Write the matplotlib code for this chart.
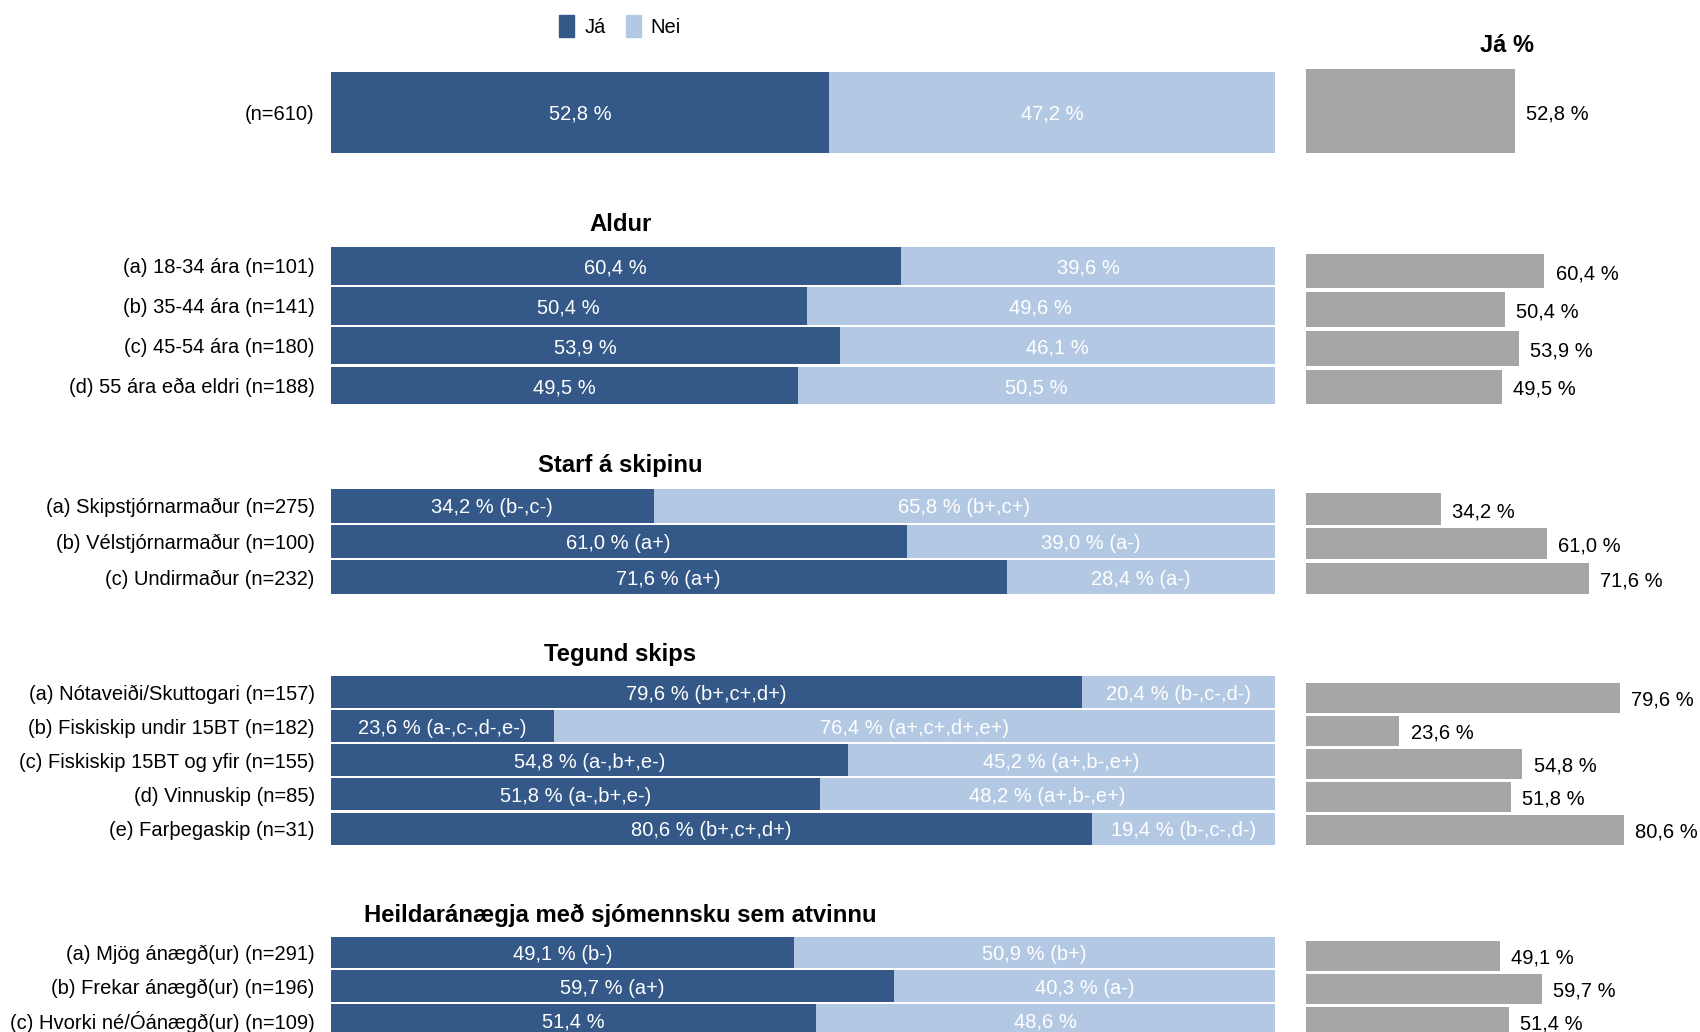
"""Já/Nei stacked bars by background group, with a side panel of Já %."""
import matplotlib

matplotlib.use("Agg")
import matplotlib.pyplot as plt
from matplotlib.patches import Patch

plt.rcParams["font.family"] = ["Liberation Sans", "DejaVu Sans"]

DARK = "#345887"
LIGHT = "#b3c8e2"
GREY = "#a6a6a6"
FS = 14.5

SERIES = ["Já", "Nei"]

TOTAL_LABELS = ["(n=610)"]
TOTAL_JA = [52.8]
TOTAL_NEI = [47.2]
TOTAL_JA_SIG = [""]
TOTAL_NEI_SIG = [""]

ALDUR_LABELS = ["(a) 18-34 ára (n=101)", "(b) 35-44 ára (n=141)",
                "(c) 45-54 ára (n=180)", "(d) 55 ára eða eldri (n=188)"]
ALDUR_JA = [60.4, 50.4, 53.9, 49.5]
ALDUR_NEI = [39.6, 49.6, 46.1, 50.5]
ALDUR_JA_SIG = ["", "", "", ""]
ALDUR_NEI_SIG = ["", "", "", ""]

STARF_LABELS = ["(a) Skipstjórnarmaður (n=275)", "(b) Vélstjórnarmaður (n=100)",
                "(c) Undirmaður (n=232)"]
STARF_JA = [34.2, 61.0, 71.6]
STARF_NEI = [65.8, 39.0, 28.4]
STARF_JA_SIG = ["(b-,c-)", "(a+)", "(a+)"]
STARF_NEI_SIG = ["(b+,c+)", "(a-)", "(a-)"]

SKIP_LABELS = ["(a) Nótaveiði/Skuttogari (n=157)", "(b) Fiskiskip undir 15BT (n=182)",
               "(c) Fiskiskip 15BT og yfir (n=155)", "(d) Vinnuskip (n=85)",
               "(e) Farþegaskip (n=31)"]
SKIP_JA = [79.6, 23.6, 54.8, 51.8, 80.6]
SKIP_NEI = [20.4, 76.4, 45.2, 48.2, 19.4]
SKIP_JA_SIG = ["(b+,c+,d+)", "(a-,c-,d-,e-)", "(a-,b+,e-)", "(a-,b+,e-)", "(b+,c+,d+)"]
SKIP_NEI_SIG = ["(b-,c-,d-)", "(a+,c+,d+,e+)", "(a+,b-,e+)", "(a+,b-,e+)", "(b-,c-,d-)"]

ANAEGJA_LABELS = ["(a) Mjög ánægð(ur) (n=291)", "(b) Frekar ánægð(ur) (n=196)",
                  "(c) Hvorki né/Óánægð(ur) (n=109)"]
ANAEGJA_JA = [49.1, 59.7, 51.4]
ANAEGJA_NEI = [50.9, 40.3, 48.6]
ANAEGJA_JA_SIG = ["(b-)", "(a+)", ""]
ANAEGJA_NEI_SIG = ["(b+)", "(a-)", ""]

GROUPS = [
    ("", TOTAL_LABELS, TOTAL_JA, TOTAL_NEI, TOTAL_JA_SIG, TOTAL_NEI_SIG),
    ("Aldur", ALDUR_LABELS, ALDUR_JA, ALDUR_NEI, ALDUR_JA_SIG, ALDUR_NEI_SIG),
    ("Starf á skipinu", STARF_LABELS, STARF_JA, STARF_NEI, STARF_JA_SIG, STARF_NEI_SIG),
    ("Tegund skips", SKIP_LABELS, SKIP_JA, SKIP_NEI, SKIP_JA_SIG, SKIP_NEI_SIG),
    ("Heildaránægja með sjómennsku sem atvinnu", ANAEGJA_LABELS, ANAEGJA_JA,
     ANAEGJA_NEI, ANAEGJA_JA_SIG, ANAEGJA_NEI_SIG),
]

# layout, in pixels of a 1568 x 952 canvas (top, bottom, bar height)
REF_W, REF_H = 1568.0, 952.0
LEFT_X = (305, 1176)
RIGHT_X = (1205, 1568.5)
LEFT_BOXES = [(66, 141, 1.0), (227, 374, 0.94), (450, 549, 0.94),
              (623, 780, 0.94), (863, 956.6, 0.94)]
RIGHT_BOXES = [(64, 141, 1.0), (232.3, 374.7, 0.9), (453.6, 549.4, 0.91),
               (628.4, 780.6, 0.9), (866.3, 957.8, 0.9)]
TITLE_X = 572
TITLE_Y = [None, 207, 429, 604, 844]


def pct(v, sig=""):
    s = f"{v:.1f} %".replace(".", ",")
    return f"{s} {sig}" if sig else s


def _rect(xs, box):
    x0, x1 = xs
    top, bottom, _ = box
    return [x0 / REF_W, 1 - bottom / REF_H, (x1 - x0) / REF_W, (bottom - top) / REF_H]


def _clean(ax):
    for s in ax.spines.values():
        s.set_visible(False)
    ax.set_xticks([])
    ax.set_xlim(0, 100)


def _nudge(texts, dx, dy):
    # bar_label centres a touch high compared with the original
    for t in texts:
        t.xyann = (dx, dy)


def stacked_panel(fig, box, labels, ja, nei, ja_sig, nei_sig):
    ax = fig.add_axes(_rect(LEFT_X, box))
    h = box[2]
    y = list(range(len(labels)))
    c1 = ax.barh(y, ja, height=h, color=DARK, linewidth=0)
    c2 = ax.barh(y, nei, left=ja, height=h, color=LIGHT, linewidth=0)
    t1 = ax.bar_label(c1, labels=[pct(v, s) for v, s in zip(ja, ja_sig)],
                      label_type="center", color="white", fontsize=FS)
    t2 = ax.bar_label(c2, labels=[pct(v, s) for v, s in zip(nei, nei_sig)],
                      label_type="center", color="white", fontsize=FS)
    _nudge(t1 + t2, 0, -1.5)
    _clean(ax)
    ax.set_ylim(len(labels) - 0.5, -0.5)
    ax.set_yticks(y)
    ax.set_yticklabels(labels, fontsize=FS)
    ax.tick_params(axis="y", length=0, pad=11.5)
    return ax


def ja_panel(fig, box, ja):
    ax = fig.add_axes(_rect(RIGHT_X, box))
    y = list(range(len(ja)))
    c = ax.barh(y, ja, height=box[2], color=GREY, linewidth=0)
    texts = ax.bar_label(c, labels=[pct(v) for v in ja], padding=8, fontsize=FS)
    _nudge(texts, 8, -1.8)
    _clean(ax)
    ax.set_ylim(len(ja) - 0.5, -0.5)
    ax.set_yticks([])
    return ax


def main():
    fig = plt.figure(figsize=(17, 10.32), dpi=100)

    for (title, labels, ja, nei, ja_sig, nei_sig), lbox, rbox, ty in zip(
        GROUPS, LEFT_BOXES, RIGHT_BOXES, TITLE_Y
    ):
        stacked_panel(fig, lbox, labels, ja, nei, ja_sig, nei_sig)
        ja_panel(fig, rbox, ja)
        if title:
            fig.text(TITLE_X / REF_W, 1 - ty / REF_H, title, ha="center",
                     va="center", fontsize=17.2, fontweight="bold")

    fig.text(1390 / REF_W, 1 - 42 / REF_H, "Já %",
             ha="center", va="center", fontsize=17, fontweight="bold")

    handles = [Patch(color=c, label=s) for c, s in zip([DARK, LIGHT], SERIES)]
    fig.legend(handles=handles, loc="center", ncol=2, frameon=False,
               bbox_to_anchor=(TITLE_X / REF_W, 1 - 24 / REF_H), fontsize=14.5,
               handlelength=0.74, handleheight=1.3, handletextpad=0.5,
               columnspacing=1.0)

    fig.savefig("out.png", dpi=100)
    plt.close(fig)


if __name__ == "__main__":
    main()
